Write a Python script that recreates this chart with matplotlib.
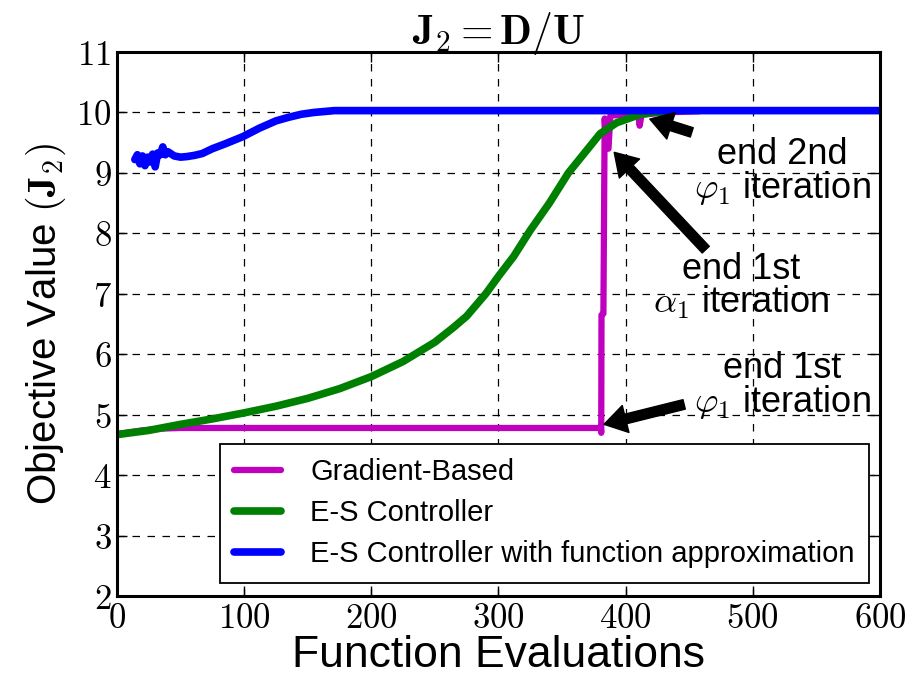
''' Objective value J2 = D/U against function evaluations for three optimisers. '''

import matplotlib
matplotlib.use('Agg')
import matplotlib.pyplot as plt
from matplotlib.ticker import FuncFormatter

plt.rcParams['mathtext.fontset'] = 'cm'
plt.rcParams['font.family'] = ['Liberation Sans', 'DejaVu Sans']

# Gradient-based run: flat start, then the jump after the first phi_1 sweep
grad_x = [0, 10, 20, 35, 50, 100, 200, 300, 380.5, 380.8, 381, 382.5, 383.5,
          385, 386.5, 388, 400, 410, 411, 412.5, 430, 458]
grad_y = [4.68, 4.71, 4.74, 4.77, 4.78, 4.78, 4.78, 4.78, 4.78, 4.70, 6.65,
          6.67, 9.90, 9.45, 9.40, 9.95, 9.96, 9.96, 9.78, 9.96, 10.0, 10.02]

# Extremum-seeking controller
es_x = [0, 25, 50, 75, 100, 125, 150, 175, 200, 225, 250, 265, 275, 290, 300,
        312, 325, 340, 355, 370, 380, 393, 405, 412, 422, 432]
es_y = [4.67, 4.74, 4.84, 4.93, 5.03, 5.14, 5.27, 5.43, 5.63, 5.88, 6.20, 6.45,
        6.63, 7.00, 7.29, 7.62, 8.05, 8.50, 9.00, 9.39, 9.65, 9.83, 9.92, 9.97,
        10.0, 10.01]

# Extremum-seeking controller with function approximation
fa_x = [14, 16, 18, 20, 22, 24, 26, 28, 30, 32, 34, 36, 38, 40, 45, 50, 55, 61,
        67, 75, 85, 99, 112, 125, 135, 145, 155, 171, 190, 250, 400, 600]
fa_y = [9.22, 9.30, 9.15, 9.28, 9.12, 9.26, 9.18, 9.31, 9.10, 9.33, 9.30, 9.43,
        9.30, 9.35, 9.28, 9.26, 9.27, 9.29, 9.32, 9.40, 9.48, 9.60, 9.74, 9.86,
        9.92, 9.97, 10.0, 10.03, 10.03, 10.03, 10.03, 10.03]

x_ticks = [0, 100, 200, 300, 400, 500, 600]
y_ticks = [2, 3, 4, 5, 6, 7, 8, 9, 10, 11]


def plot_data():
    fig = plt.figure(figsize=(9.1, 6.75), dpi=100)
    ax = fig.add_axes([0.1286, 0.117, 0.8384, 0.806])

    ax.plot(grad_x, grad_y, color='m', lw=4.5, solid_capstyle='round',
            label='Gradient-Based')
    ax.plot(es_x, es_y, color='g', lw=5.5, solid_capstyle='round',
            label='E-S Controller')
    ax.plot(fa_x, fa_y, color='b', lw=5.5, solid_capstyle='round',
            label='E-S Controller with function approximation')

    ax.set_xlim(0, 600)
    ax.set_ylim(2, 11)
    ax.set_xticks(x_ticks)
    ax.set_yticks(y_ticks)
    ax.xaxis.set_major_formatter(FuncFormatter(lambda v, p: r'$%d$' % v))
    ax.yaxis.set_major_formatter(FuncFormatter(lambda v, p: r'$%d$' % v))
    ax.tick_params(direction='in', top=True, right=True, length=7, width=1,
                   labelsize=25, pad=4)
    for s in ax.spines.values():
        s.set_linewidth(2.2)

    ax.grid(True, color='black', linestyle=(0, (6, 6)), linewidth=0.9)
    ax.set_axisbelow(True)

    ax.set_title(r'$\mathbf{J_2 = D/U}$', fontsize=30, pad=6)
    ax.set_xlabel('Function Evaluations', fontsize=32, labelpad=0)
    ax.set_ylabel(r'Objective Value $(\mathbf{J_2})$', fontsize=29, labelpad=6)

    # Arrows marking where each iteration ends
    arrow = dict(facecolor='black', edgecolor='black', width=7,
                 headwidth=20, headlength=16, shrink=0.0)
    ax.annotate('', xy=(419, 9.89), xytext=(452, 9.67), arrowprops=arrow)
    ax.annotate('', xy=(391, 9.34), xytext=(463, 7.73), arrowprops=arrow)
    ax.annotate('', xy=(383, 4.84), xytext=(446, 5.17), arrowprops=arrow)

    note = dict(fontsize=26, ha='center', va='center', linespacing=0.9)
    ax.text(523, 9.02, 'end 2nd\n' + r'$\varphi_1$ iteration', **note)
    ax.text(491, 7.12, 'end 1st\n' + r'$\alpha_1$ iteration', **note)
    ax.text(523, 5.48, 'end 1st\n' + r'$\varphi_1$ iteration', **note)

    leg = ax.legend(loc='lower right', fontsize=21, handlelength=1.6,
                    handletextpad=1.0, borderpad=0.5, labelspacing=0.45,
                    borderaxespad=0, fancybox=False, framealpha=1,
                    edgecolor='black', bbox_to_anchor=(0.986, 0.024))
    leg.get_frame().set_linewidth(1.3)

    fig.savefig('out.png', dpi=100)


if __name__ == '__main__':
    plot_data()
